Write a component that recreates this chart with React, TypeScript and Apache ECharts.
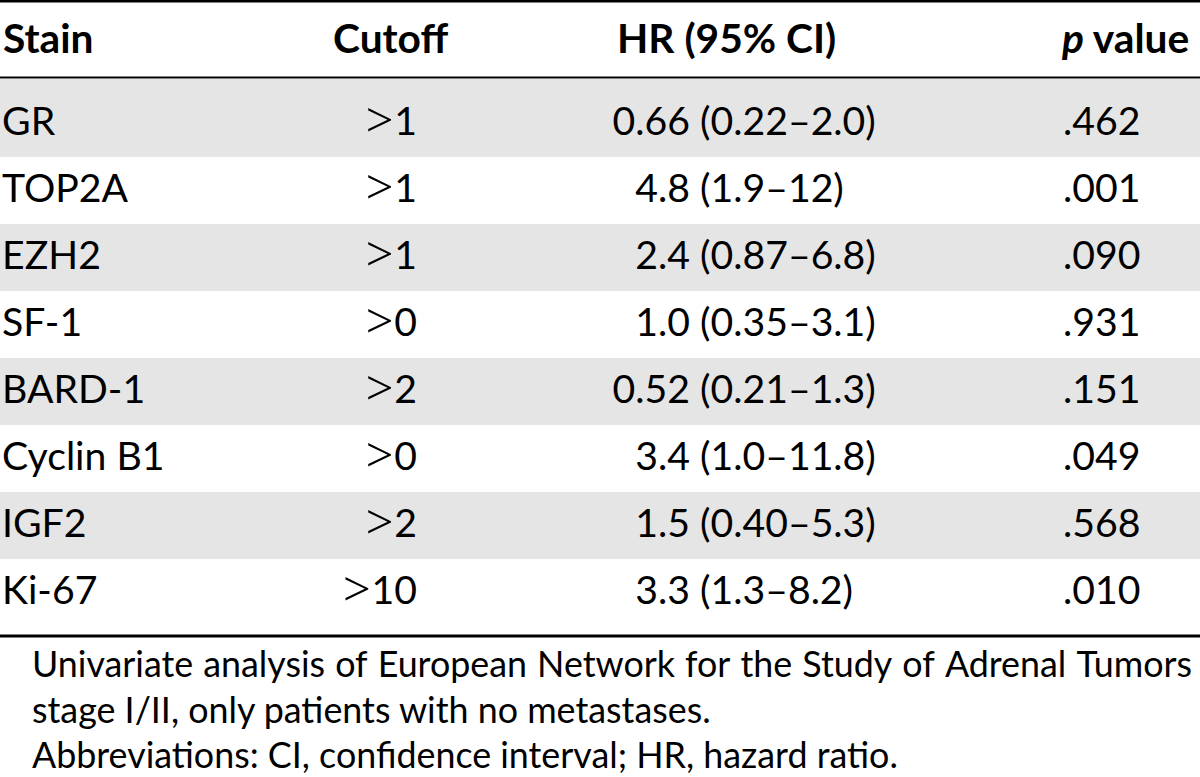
import React, { useEffect, useRef } from "react";
import * as echarts from "echarts";

// ---- data ----
const HEADERS = ["Stain", "Cutoff", "HR (95% CI)", "p value"];
const STAINS = ["GR", "TOP2A", "EZH2", "SF-1", "BARD-1", "Cyclin B1", "IGF2", "Ki-67"];
const CUTOFFS = ["1", "1", "1", "0", "2", "0", "2", "10"];
const HR_EST = ["0.66", "4.8", "2.4", "1.0", "0.52", "3.4", "1.5", "3.3"];
const HR_CI = ["(0.22–2.0)", "(1.9–12)", "(0.87–6.8)", "(0.35–3.1)", "(0.21–1.3)", "(1.0–11.8)", "(0.40–5.3)", "(1.3–8.2)"];
const P_VALUES = [".462", ".001", ".090", ".931", ".151", ".049", ".568", ".010"];
const FOOTNOTES = [
  "Univariate analysis of European Network for the Study of Adrenal Tumors",
  "stage I/II, only patients with no metastases.",
  "Abbreviations: CI, confidence interval; HR, hazard ratio.",
];

// ---- layout ----
const W = 1200;
const H = 777;
const FONT = "Lato";
const ROW_EDGES = [79, 157, 224, 291, 358, 425, 492, 559, 635];
const TEXT_Y0 = 121;
const TEXT_DY = 67;
const HEADER_Y = 39;
const FOOT_Y0 = 665;
const FOOT_DY = 45.5;
const FOOT_X = 32;
const FOOT_RIGHT = 1192;
const GREY = "#e5e5e5";
const INK = "#000000";

function makeMeasurer() {
  const c = document.createElement("canvas");
  const ctx = c.getContext("2d") as CanvasRenderingContext2D;
  return (text: string, size: number, weight = "normal", family = FONT, style = "normal") => {
    ctx.font = `${style} ${weight} ${size}px ${family}`;
    return ctx.measureText(text).width;
  };
}

function buildElements() {
  const m = makeMeasurer();
  // calibrate font sizes to the reference widths
  const bodyRef = m("TOP2A", 40) + m("Cyclin B1", 40) + m(".462", 40);
  const fsBody = (40 * (123 + 164 + 79)) / bodyRef;
  const headRef = m("Stain", 40, "bold") + m("Cutoff", 40, "bold") + m("HR (95% CI)", 40, "bold");
  const fsHead = (40 * (92 + 117 + 216)) / headRef;
  const fsFoot = (40 * 866) / m(FOOTNOTES[2], 40);

  const els: any[] = [];
  const txt = (text: string, x: number, y: number, size: number, opts: any = {}) => {
    els.push({
      type: "text",
      silent: true,
      style: {
        text,
        x,
        y,
        fill: INK,
        fontFamily: opts.family || FONT,
        fontSize: size,
        fontWeight: opts.weight || "normal",
        fontStyle: opts.style || "normal",
        align: opts.align || "left",
        verticalAlign: "middle",
        lineHeight: size,
      },
    });
  };

  // row shading
  for (let i = 0; i < STAINS.length; i++) {
    if (i % 2 === 0) {
      els.push({
        type: "rect",
        silent: true,
        shape: { x: 0, y: ROW_EDGES[i], width: W, height: ROW_EDGES[i + 1] - ROW_EDGES[i] },
        style: { fill: GREY },
      });
    }
  }
  // rules
  els.push({ type: "rect", silent: true, shape: { x: 0, y: 0, width: W, height: 2.6 }, style: { fill: INK } });
  els.push({ type: "rect", silent: true, shape: { x: 0, y: 76.6, width: W, height: 2 }, style: { fill: INK } });
  els.push({ type: "rect", silent: true, shape: { x: 0, y: 634.4, width: W, height: 3 }, style: { fill: INK } });

  // header
  const hy = HEADER_Y - 0.03 * fsHead;
  txt(HEADERS[0], 3, hy, fsHead, { weight: "bold" });
  txt(HEADERS[1], 333, hy, fsHead, { weight: "bold" });
  txt(HEADERS[2], 617, hy, fsHead, { weight: "bold" });
  const [pItalic, pRest] = HEADERS[3].split(" ");
  txt(pItalic, 1062, hy, fsHead, { weight: "bold", style: "italic" });
  txt(pRest, 1062 + m(pItalic + " ", fsHead, "bold", FONT, "italic"), hy, fsHead, { weight: "bold" });

  // body
  const fsGt = fsBody * 1.25;
  for (let i = 0; i < STAINS.length; i++) {
    const y = TEXT_Y0 + TEXT_DY * i - 0.03 * fsBody;
    txt(STAINS[i], 2, y, fsBody);
    // cutoff: thin ">" then number, right-aligned
    const numW = m(CUTOFFS[i], fsBody);
    txt(CUTOFFS[i], 417, y, fsBody, { align: "right" });
    txt(">", 417 - numW - 1, y - 0.5, fsGt, { align: "right", family: "Liberation Serif" });
    // HR: estimate right-aligned, CI left
    txt(HR_EST[i], 690, y, fsBody, { align: "right" });
    txt(HR_CI[i], 700, y, fsBody);
    // p value
    txt(P_VALUES[i], 1063, y, fsBody);
  }

  // footnotes
  // line 1 justified between FOOT_X and FOOT_RIGHT
  const words = FOOTNOTES[0].split(" ");
  const ws = words.map((w) => m(w, fsFoot));
  const total = ws.reduce((a, b) => a + b, 0);
  const gap = (FOOT_RIGHT - FOOT_X - total) / (words.length - 1);
  let x = FOOT_X;
  const fy0 = FOOT_Y0 - 0.03 * fsFoot;
  words.forEach((w, k) => {
    txt(w, x, fy0, fsFoot);
    x += ws[k] + gap;
  });
  txt(FOOTNOTES[1], FOOT_X, fy0 + FOOT_DY, fsFoot);
  txt(FOOTNOTES[2], FOOT_X, fy0 + FOOT_DY * 2, fsFoot);
  return els;
}

export default function App() {
  const ref = useRef<HTMLDivElement>(null);
  useEffect(() => {
    document.body.style.margin = "0";
    const chart = echarts.init(ref.current!, undefined, { renderer: "svg" });
    chart.setOption({
      animation: false,
      backgroundColor: "#ffffff",
      graphic: { elements: buildElements() },
    });
    return () => chart.dispose();
  }, []);
  return <div ref={ref} style={{ width: W, height: H }} />;
}
